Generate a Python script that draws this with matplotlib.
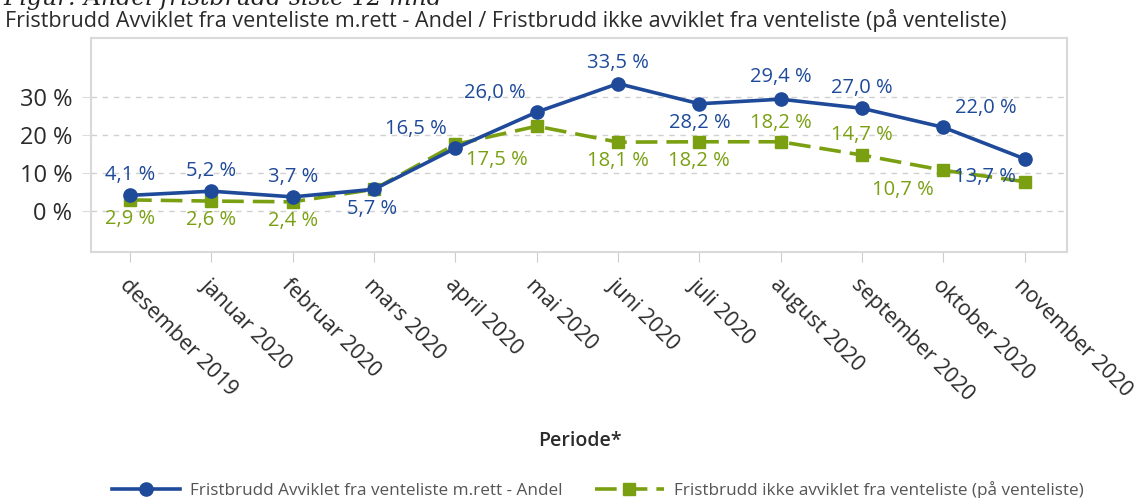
import matplotlib
matplotlib.use("Agg")
import matplotlib.pyplot as plt
from matplotlib import rc

rc("font", **{"family": ["Open Sans", "DejaVu Sans"]})

months = ["desember 2019", "januar 2020", "februar 2020", "mars 2020", "april 2020",
          "mai 2020", "juni 2020", "juli 2020", "august 2020", "september 2020",
          "oktober 2020", "november 2020"]
avviklet = [4.1, 5.2, 3.7, 5.7, 16.5, 26.0, 33.5, 28.2, 29.4, 27.0, 22.0, 13.7]
ikke_avviklet = [2.9, 2.6, 2.4, 5.7, 17.5, 22.3, 18.1, 18.2, 18.2, 14.7, 10.7, 7.7]
ikke_avviklet_shown = [True, True, True, False, True, False, True, True, True, True, True, False]
y_ticks = [0, 10, 20, 30]

name_blue = "Fristbrudd Avviklet fra venteliste m.rett - Andel"
name_green = "Fristbrudd ikke avviklet fra venteliste (på venteliste)"
title = name_blue + " / " + name_green

blue = "#1f4a9a"
green = "#7aa012"
text_dark = "#2b2b2b"

# label offsets in pixels (dx, dy), purely placement
blue_off = [(0, 20), (0, 20), (0, 20), (-2, -20), (-39, 19), (-42, 19),
            (0, 21), (0, -19), (0, 22), (0, 20), (42, 19), (-40, -18)]
green_off = [(0, -19), (0, -19), (0, -19), (0, 0), (42, -16), (0, 0),
             (0, -19), (0, -19), (0, 19), (0, 20), (-40, -20), (0, 0)]


def fmt(v):
    return ("%.1f" % v).replace(".", ",") + " %"


fig = plt.figure(figsize=(11.45, 4.98), dpi=100)
ax = fig.add_axes([91 / 1145, 1 - 252 / 498, (1067 - 91) / 1145, (252 - 38) / 498])

x = list(range(len(months)))
ax.plot(x, avviklet, color=blue, lw=2.6, marker="o", ms=9.5, label=name_blue, zorder=4)
ax.plot(x, ikke_avviklet, color=green, lw=2.6, marker="s", ms=8, dashes=(6, 2.5),
        label=name_green, zorder=3)

for i, v in enumerate(avviklet):
    ax.annotate(fmt(v), (i, v), xytext=blue_off[i], textcoords="offset pixels",
                ha="center", va="center", color=blue, fontsize=14.5, zorder=6)
for i, v in enumerate(ikke_avviklet):
    if ikke_avviklet_shown[i]:
        ax.annotate(fmt(v), (i, v), xytext=green_off[i], textcoords="offset pixels",
                    ha="center", va="center", color=green, fontsize=14.5, zorder=5)

ax.set_xlim(-0.48, 11.52)
ax.set_ylim(-10.8, 45.5)
ax.set_yticks(y_ticks)
ax.set_yticklabels(["%d %%" % t for t in y_ticks], fontsize=17, color=text_dark)
ax.set_xticks(x)
ax.set_xticklabels(months, rotation=-45, ha="left", va="top", rotation_mode="anchor",
                   fontsize=15.5, color=text_dark)
ax.tick_params(axis="y", length=6.5, pad=7, color="#dddddd")
ax.tick_params(axis="x", length=7, pad=9, color="#cccccc")
ax.grid(axis="y", color="#d0d0d0", linestyle=(0, (4, 4)), lw=1)
for s in ax.spines.values():
    s.set_color("#d9d9d9")
    s.set_linewidth(1.5)

fig.text(5 / 1145, 1 - 21 / 498, title, fontsize=15.5, color=text_dark, va="center", ha="left")
fig.text(3 / 1145, 1 - 5 / 498, "Figur: Andel fristbrudd siste 12 mnd", family="DejaVu Serif",
         style="italic", fontsize=17, color="#222222", va="baseline", ha="left")
fig.text(580 / 1145, 1 - 441 / 498, "Periode*", fontsize=14, fontweight="semibold",
         color=text_dark, ha="center", va="center")

fig.legend(loc="center", bbox_to_anchor=(0.522, 1 - 490 / 498), ncol=2, frameon=False,
           fontsize=12.3, handlelength=4.0, handletextpad=0.6, columnspacing=1.9,
           labelcolor="#555555")

fig.savefig("out.png", dpi=100)
